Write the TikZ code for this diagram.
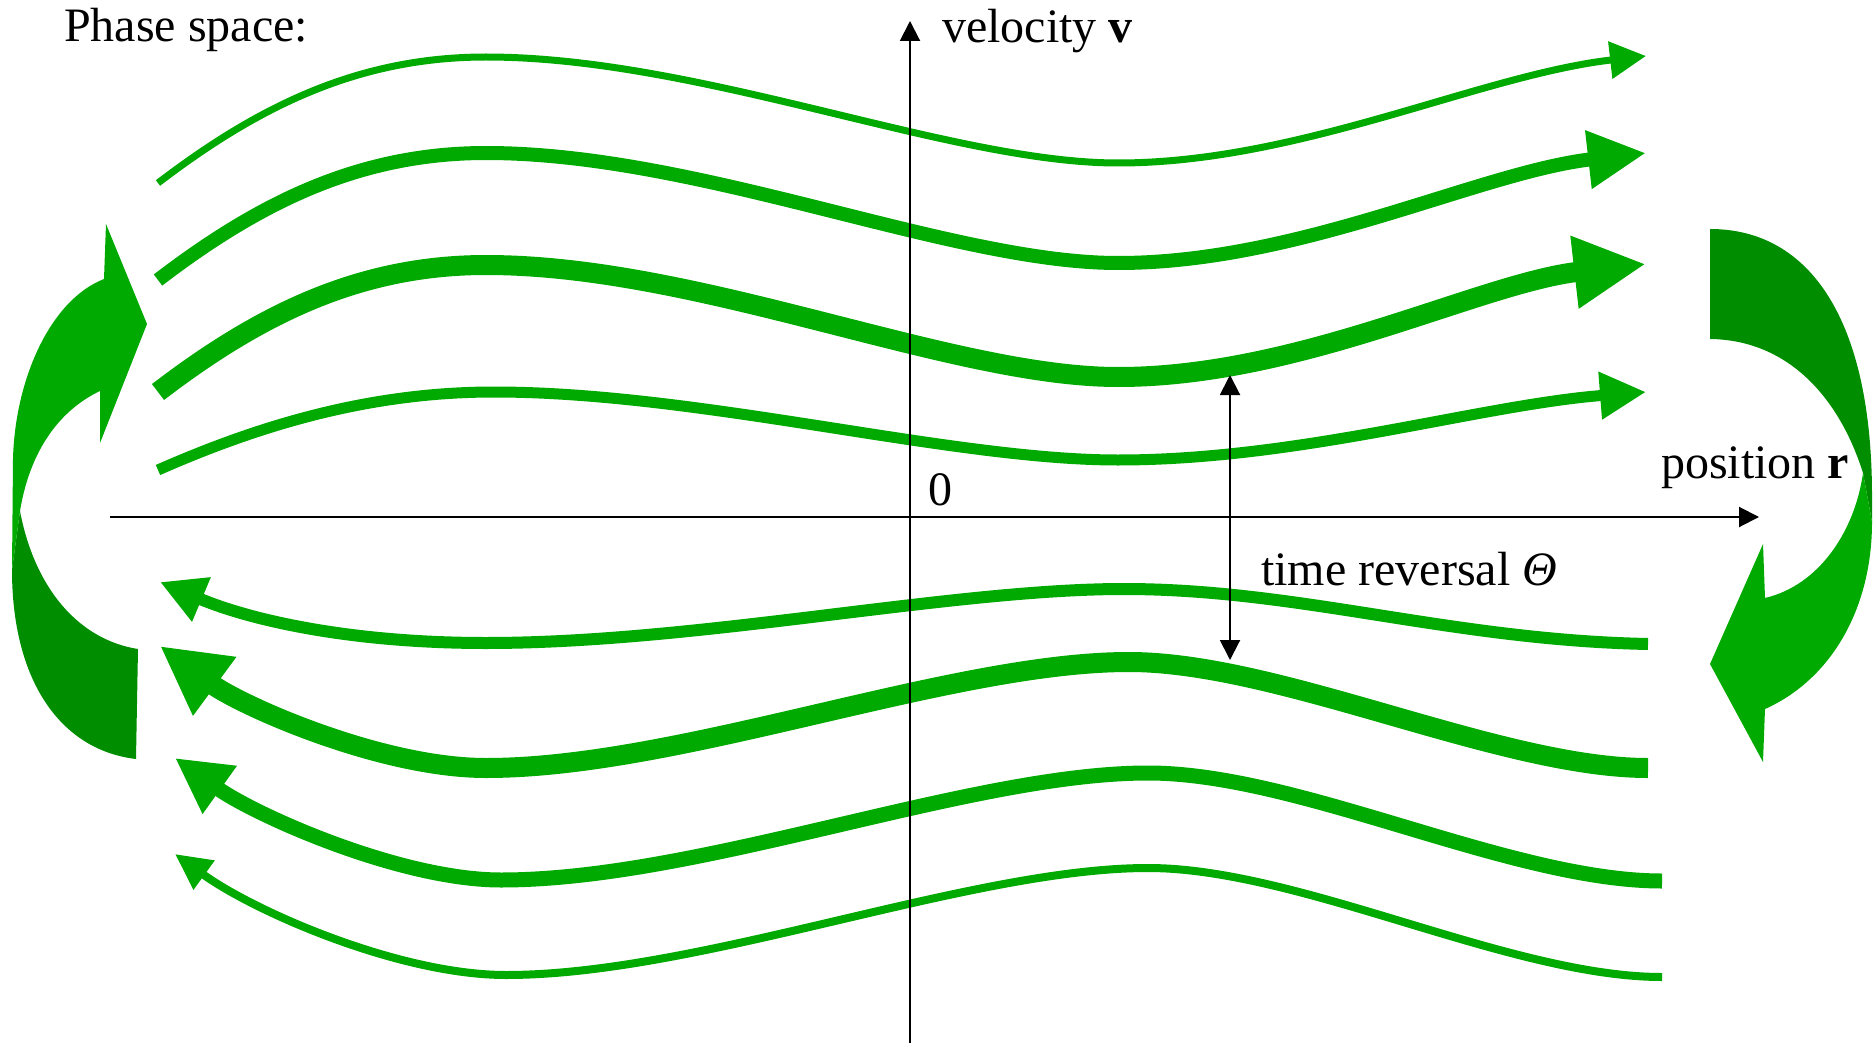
\documentclass[tikz,border=0pt]{standalone}
\usepackage{fontspec}
\setmainfont{Liberation Serif}
\usetikzlibrary{arrows.meta}
\definecolor{lg}{RGB}{0,170,0}
\definecolor{dg}{RGB}{0,142,0}
\begin{document}
\begin{tikzpicture}[x=1pt,y=-1pt,
  lbl/.style={anchor=base west,inner sep=0pt,font=\fontsize{48}{58}\selectfont},
  axisline/.style={line width=2pt,-{Triangle[length=20pt,width=20pt]}},
  flow/.style={draw=lg},
]
\useasboundingbox (0,0) rectangle (1874,1043);

% big curved arrows
\fill[dg] (138,649) -- (136,759) .. controls (60,750) and (12,680) .. (12,570) -- (20,511) .. controls (35,590) and (80,640) .. (138,649) -- cycle;
\fill[lg] (12,570) -- (13,459) .. controls (15,380) and (50,300) .. (104,279) -- (106,224) -- (147,324) -- (100,443) -- (100,391) .. controls (60,410) and (30,450) .. (20,511) -- cycle;
\fill[dg] (1710,229) .. controls (1810,229) and (1872,320) .. (1872,496) -- (1872,522) -- (1863,473) .. controls (1840,400) and (1790,340) .. (1710,339) -- cycle;
\fill[lg] (1863,473) .. controls (1855,530) and (1820,585) .. (1765,598) -- (1763,544) -- (1710,664) -- (1763,762) -- (1765,709) .. controls (1830,680) and (1872,610) .. (1872,522) -- cycle;

% upper flows (to the right)
\draw[flow,line width=7pt,-{Triangle[length=36pt,width=36pt]}] (158,183) .. controls (260,105) and (360,57) .. (486,57) .. controls (700,57) and (950,163) .. (1118,163) .. controls (1300,163) and (1480,75) .. (1646,56);
\draw[flow,line width=14pt,-{Triangle[length=58pt,width=55pt]}] (158,280) .. controls (260,202) and (360,153) .. (486,153) .. controls (700,153) and (950,263) .. (1118,263) .. controls (1300,263) and (1480,172) .. (1646,153);
\draw[flow,line width=20pt,-{Triangle[length=72pt,width=68pt]}] (158,392) .. controls (260,314) and (360,265) .. (486,265) .. controls (700,265) and (950,377) .. (1118,377) .. controls (1300,377) and (1480,283) .. (1646,264);
\draw[flow,line width=11pt,-{Triangle[length=46pt,width=45pt]}] (158,470) .. controls (260,425) and (370,392) .. (494,392) .. controls (700,392) and (950,460) .. (1118,460) .. controls (1300,460) and (1480,405) .. (1646,392);

% lower flows (to the left)
\draw[flow,line width=12pt,-{Triangle[length=45pt,width=45pt]}] (1648,644) .. controls (1450,640) and (1300,589) .. (1124,589) .. controls (950,589) and (700,643) .. (486,643) .. controls (350,643) and (250,620) .. (160,582);
\draw[flow,line width=20pt,-{Triangle[length=68pt,width=68pt]}] (1648,768) .. controls (1500,768) and (1280,662) .. (1129,662) .. controls (950,662) and (680,768) .. (486,768) .. controls (380,768) and (240,705) .. (160,646);
\draw[flow,line width=15pt,-{Triangle[length=55pt,width=55pt]}] (1662,881) .. controls (1510,881) and (1300,773) .. (1148,773) .. controls (970,773) and (700,880) .. (501,880) .. controls (400,880) and (255,815) .. (175,758);
\draw[flow,line width=8pt,-{Triangle[length=36pt,width=34pt]}] (1662,977) .. controls (1510,977) and (1300,868) .. (1148,868) .. controls (970,868) and (700,975) .. (506,975) .. controls (400,975) and (255,912) .. (175,854);

% axes
\coordinate (vb) at (910,1043);
\coordinate (vt) at (910,21);
\coordinate (hl) at (110,517);
\coordinate (hr) at (1759,517);
\draw[axisline] (vb) -- (vt);
\draw[axisline] (hl) -- (hr);
\coordinate (ta) at (1230,375);
\coordinate (tb) at (1230,660);
\draw[line width=2pt,{Triangle[length=20pt,width=20pt]}-{Triangle[length=20pt,width=20pt]}] (ta) -- (tb);

% labels
\node[lbl] (title) at (64,42) {Phase space:};
\node[lbl] (vlab) at (942,43) {velocity \textbf{v}};
\node[lbl,anchor=base] (zero) at (940,505) {0};
\node[lbl] (rlab) at (1661,478) {position \textbf{r}};
\node[lbl] (tlab) at (1261,585) {time reversal \textit{Θ}};
\end{tikzpicture}
\end{document}
